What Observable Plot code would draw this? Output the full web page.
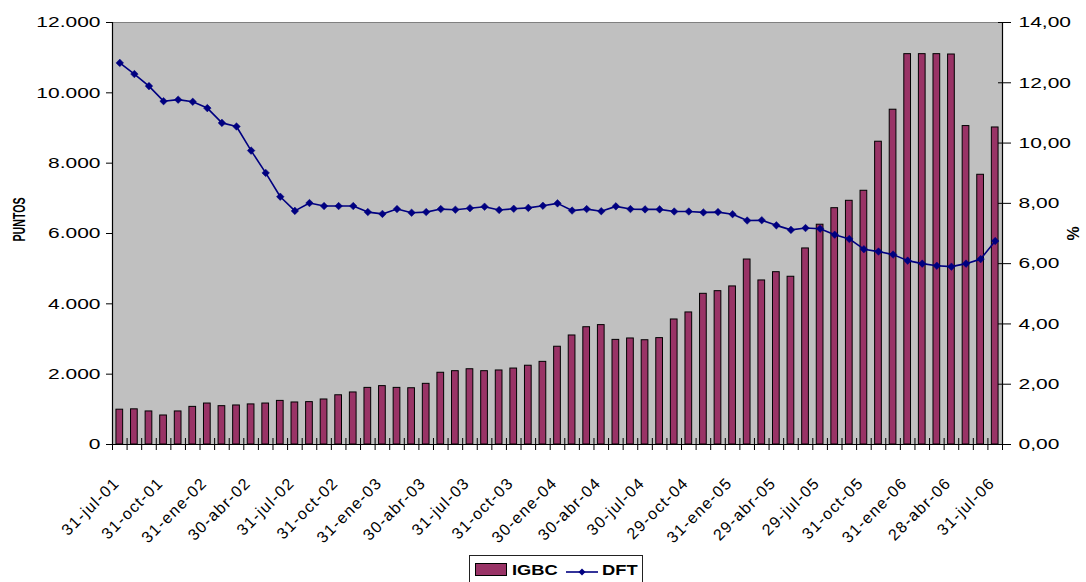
<!DOCTYPE html>
<html>
<head>
<meta charset="utf-8">
<script src="https://cdn.jsdelivr.net/npm/d3@7"></script>
<script src="https://cdn.jsdelivr.net/npm/@observablehq/plot@0.6"></script>
<style>
  body { margin: 0; background: #fff; font-family: "Liberation Sans", Arial, sans-serif; }
  #chart { position: relative; width: 1086px; height: 582px; overflow: hidden; }
  .legend { position: absolute; left: 469px; top: 555px; width: 172px; height: 30px; border: 1px solid #222; background: #fff; }
  .legend .sw { position: absolute; left: 5px; top: 7px; width: 30px; height: 11px; background: #993366; border: 1px solid #000; }
  .legend .lt { position: absolute; top: 6px; font-weight: bold; font-size: 15px; line-height: 15px; transform: scaleX(1.22); transform-origin: left center; }
  .legend svg { position: absolute; left: 96px; top: 7px; }
</style>
</head>
<body>
<div id="chart"></div>
<script>
// Monthly closes, 31-jul-01 .. 31-jul-06
const etiquetas = ["31-jul-01", "31-oct-01", "31-ene-02", "30-abr-02", "31-jul-02", "31-oct-02",
  "31-ene-03", "30-abr-03", "31-jul-03", "31-oct-03", "30-ene-04", "30-abr-04", "30-jul-04",
  "29-oct-04", "31-ene-05", "29-abr-05", "29-jul-05", "31-oct-05", "31-ene-06", "28-abr-06", "31-jul-06"];

// IGBC index (puntos)
const igbc = [990, 1000, 940, 825, 940, 1070, 1165, 1090, 1110, 1140, 1165, 1240, 1195, 1205, 1280,
  1400, 1480, 1610, 1660, 1610, 1600, 1725, 2040, 2085, 2140, 2085, 2105, 2160, 2240, 2350,
  2780, 3100, 3335, 3395, 2975, 3015, 2965, 3025, 3555, 3755, 4285, 4360, 4495, 5260, 4665,
  4900, 4770, 5575, 6250, 6720, 6930, 7215, 8610, 9520, 11100, 11100, 11100, 11090, 9055, 7670, 9015];

// DFT rate (%)
const dft = [12.66, 12.29, 11.89, 11.39, 11.44, 11.37, 11.16, 10.67, 10.55, 9.75,
  9.01, 8.22, 7.75, 8.01, 7.91, 7.91, 7.91, 7.71, 7.65, 7.81,
  7.69, 7.71, 7.81, 7.79, 7.84, 7.89, 7.78, 7.82, 7.85, 7.92,
  8.00, 7.76, 7.81, 7.74, 7.90, 7.81, 7.80, 7.80, 7.73, 7.73,
  7.70, 7.71, 7.64, 7.43, 7.44, 7.27, 7.12, 7.18, 7.16, 6.96,
  6.82, 6.48, 6.40, 6.30, 6.10, 6.00, 5.93, 5.90, 6.00, 6.15, 6.75];

const ticksPuntos = [0, 2000, 4000, 6000, 8000, 10000, 12000];
const ticksPct = [0, 2, 4, 6, 8, 10, 12, 14];

const maxPuntos = 12000, maxPct = 14;
const k = maxPuntos / maxPct; // percent -> left-axis units
const rows = igbc.map((v, i) => ({i, igbc: v, dft: dft[i]}));
const labelIdx = etiquetas.map((_, j) => j * 3);
const bounds = d3.range(-0.5, igbc.length, 1);

const es = d3.formatLocale({decimal: ",", thousands: ".", grouping: [3], currency: ["", ""]});
const fPts = es.format(",.0f");
const fPct = es.format(".2f");

const font = '"Liberation Sans", Arial, sans-serif';
const plot = Plot.plot({
  width: 1086, height: 550,
  marginLeft: 112, marginRight: 84, marginTop: 22, marginBottom: 106,
  style: {fontFamily: font, fontSize: "15px", color: "#000", background: "transparent"},
  x: {type: "linear", domain: [-0.5, igbc.length - 0.5]},
  y: {domain: [0, maxPuntos]},
  marks: [
    Plot.frame({fill: "#c0c0c0", stroke: "#808080"}),
    Plot.rect(rows, {x1: d => d.i - 0.23, x2: d => d.i + 0.23, y1: 0, y2: "igbc",
      fill: "#993366", stroke: "#000", strokeWidth: 1}),
    Plot.ruleX([-0.5, igbc.length - 0.5], {stroke: "#000", strokeWidth: 1.2}),
    Plot.ruleY([0], {stroke: "#000", strokeWidth: 1.2}),
    Plot.line(rows, {x: "i", y: d => d.dft * k, stroke: "#000080", strokeWidth: 1.6}),
    Plot.dot(rows, {x: "i", y: d => d.dft * k, symbol: "diamond2", r: 3.4,
      fill: "#000080", stroke: "#000080", strokeWidth: 0.5}),
    Plot.axisY({anchor: "left", ticks: ticksPuntos, tickFormat: fPts, tickSize: 6, tickPadding: 6,
      label: null, fontSize: 15}),
    Plot.axisY({anchor: "right", ticks: ticksPct.map(v => v * k), tickFormat: d => fPct(d / k),
      tickSize: 13, dx: -5, tickPadding: 8, label: null, fontSize: 15}),
    Plot.axisX({ticks: bounds, tickSize: 12, dy: -6, tickFormat: () => "", label: null}),
    Plot.axisX({ticks: labelIdx, tickSize: 0, tickRotate: -45, tickPadding: 36, dx: -3,
      tickFormat: i => etiquetas[Math.round(i / 3)], label: null, fontSize: 16}),
    Plot.text(["PUNTOS"], {frameAnchor: "left", text: d => d, rotate: -90, dx: -93, dy: -14,
      textAnchor: "middle", fontWeight: "bold", fontSize: 16}),
    Plot.text(["%"], {frameAnchor: "right", text: d => d, rotate: -90, dx: 71,
      textAnchor: "middle", fontWeight: "bold", fontSize: 16})
  ]
});

// wide type: stretch horizontal labels, space out the slanted date labels
const svg = d3.select(plot);
const xy = el => {
  const m = /translate\(([-\d.e]+)[ ,]+([-\d.e]+)\)/.exec(el.getAttribute("transform") || "");
  return m ? [+m[1], +m[2]] : [0, 0];
};
svg.selectAll('g[aria-label="y-axis tick label"] text').each(function () {
  const [x, y] = xy(this);
  this.setAttribute("transform", `translate(${x},${y}) scale(1.4,1)`);
});
svg.selectAll('g[aria-label="x-axis tick label"]').attr("letter-spacing", "1.3px");
// vertical axis titles run tall and narrow along their length
svg.selectAll('g[aria-label="text"] text')
  .filter(function () { return this.textContent === "PUNTOS"; })
  .attr("textLength", 44)
  .attr("lengthAdjust", "spacingAndGlyphs");

const chart = document.getElementById("chart");
chart.appendChild(plot);

// legend below the plot
const legend = document.createElement("div");
legend.className = "legend";
legend.innerHTML =
  '<span class="sw"></span><span class="lt" style="left:42px">IGBC</span>' +
  '<svg width="32" height="18"><line x1="0" y1="9" x2="32" y2="9" stroke="#000080" stroke-width="1.6"/>' +
  '<path d="M16,5.5L19.5,9L16,12.5L12.5,9Z" fill="#000080"/></svg>' +
  '<span class="lt" style="left:132px">DFT</span>';
chart.appendChild(legend);
</script>
</body>
</html>
